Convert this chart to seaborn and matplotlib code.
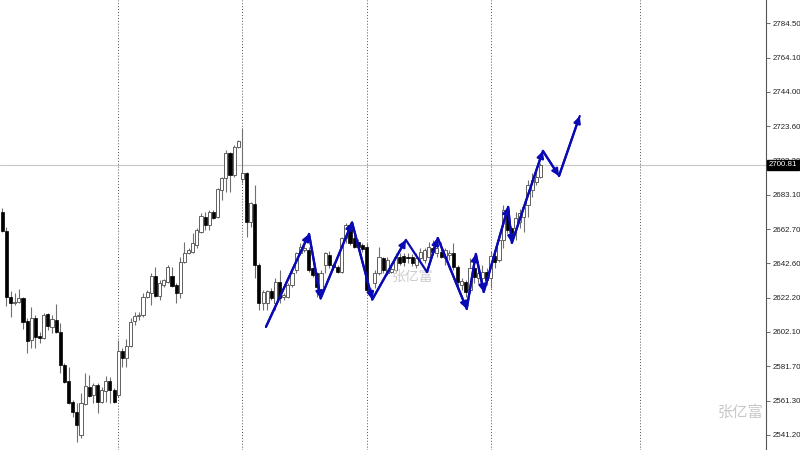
import numpy as np
import pandas as pd
import matplotlib
matplotlib.use('Agg')
import matplotlib.pyplot as plt
import seaborn as sns

# OHLC, one candle per slot
opens = [2673.2, 2662.0, 2623.0, 2619.0, 2620.0, 2622.0, 2608.6, 2597.4, 2610.2, 2599.7,
         2598.7, 2612.7, 2605.2, 2609.2, 2602.3, 2582.6, 2573.1, 2560.9, 2555.0, 2541.2,
         2559.5, 2569.8, 2564.9, 2570.8, 2560.9, 2567.4, 2573.1, 2567.8, 2564.9, 2590.9,
         2586.5, 2594.0, 2608.5, 2611.5, 2612.2, 2623.0, 2625.0, 2635.4, 2623.4, 2629.9,
         2631.9, 2635.2, 2629.9, 2625.0, 2643.7, 2648.6, 2649.6, 2653.5, 2661.4, 2670.3,
         2665.4, 2673.2, 2669.9, 2686.0, 2692.9, 2708.1, 2694.9, 2711.7, 2692.5, 2695.9,
         2667.3, 2677.8, 2641.7, 2619.1, 2619.0, 2626.0, 2619.0, 2631.8, 2622.6, 2623.0,
         2629.9, 2638.7, 2648.6, 2650.6, 2650.6, 2639.7, 2636.8, 2626.9, 2641.7, 2647.6,
         2641.7, 2640.7, 2637.8, 2657.5, 2665.3, 2657.5, 2655.5, 2653.5, 2652.5, 2624.0,
         2630.9, 2636.8, 2645.6, 2636.8, 2637.8, 2638.7, 2646.6, 2647.0, 2646.6, 2646.6,
         2641.7, 2645.6, 2644.6, 2646.6, 2651.5, 2648.5, 2649.5, 2645.6, 2647.6, 2648.5,
         2640.7, 2629.8, 2631.8, 2626.9, 2639.7, 2633.8, 2633.8, 2637.7, 2634.0, 2647.0,
         2644.6, 2656.4, 2674.1, 2663.3, 2663.3, 2667.2, 2670.2, 2677.1, 2686.0, 2690.9,
         2693.8]
highs = [2675.4, 2664.0, 2626.5, 2625.0, 2627.3, 2623.0, 2610.2, 2617.0, 2612.1, 2602.3,
         2613.1, 2613.5, 2612.1, 2618.6, 2607.2, 2583.6, 2581.6, 2561.9, 2559.9, 2565.8,
         2577.7, 2576.7, 2572.1, 2571.8, 2569.8, 2576.1, 2575.7, 2568.8, 2597.4, 2592.4,
         2597.8, 2610.2, 2614.0, 2614.0, 2625.0, 2627.0, 2636.8, 2640.7, 2632.9, 2633.4,
         2641.7, 2640.7, 2630.9, 2646.6, 2655.5, 2651.6, 2660.4, 2663.4, 2672.2, 2673.2,
         2674.2, 2674.2, 2687.0, 2693.9, 2709.7, 2708.7, 2712.6, 2715.6, 2722.5, 2696.5,
         2679.1, 2689.0, 2642.7, 2626.9, 2627.0, 2628.0, 2633.8, 2638.7, 2625.0, 2630.9,
         2637.8, 2649.6, 2654.5, 2653.5, 2652.5, 2640.7, 2637.8, 2638.7, 2649.6, 2650.0,
         2642.7, 2641.7, 2658.4, 2666.3, 2667.3, 2660.0, 2657.0, 2654.5, 2654.5, 2628.0,
         2638.7, 2652.5, 2646.6, 2646.6, 2641.7, 2648.6, 2648.6, 2649.0, 2648.6, 2648.0,
         2648.6, 2651.5, 2652.0, 2655.4, 2656.4, 2653.5, 2655.4, 2651.5, 2650.5, 2654.4,
         2641.7, 2633.8, 2633.0, 2645.6, 2641.7, 2640.7, 2641.7, 2639.7, 2650.0, 2648.6,
         2660.3, 2677.0, 2676.0, 2665.0, 2673.0, 2675.0, 2678.0, 2692.0, 2696.0, 2697.7,
         2701.7]
lows = [2661.4, 2617.5, 2611.1, 2618.0, 2619.0, 2603.7, 2589.9, 2592.5, 2592.5, 2595.4,
        2597.8, 2603.3, 2601.3, 2601.3, 2577.7, 2572.1, 2559.5, 2552.0, 2537.3, 2539.2,
        2558.9, 2563.9, 2559.9, 2554.4, 2559.9, 2560.9, 2559.9, 2559.9, 2563.9, 2581.6,
        2581.6, 2593.0, 2606.0, 2609.0, 2611.2, 2622.0, 2618.1, 2623.0, 2621.0, 2628.9,
        2630.9, 2628.9, 2619.1, 2622.0, 2643.1, 2648.2, 2649.0, 2651.6, 2660.4, 2662.4,
        2662.4, 2668.7, 2669.3, 2680.1, 2685.0, 2685.0, 2693.9, 2710.7, 2690.0, 2658.5,
        2664.4, 2633.8, 2615.1, 2615.1, 2615.0, 2621.0, 2615.1, 2619.0, 2621.0, 2622.0,
        2628.9, 2636.8, 2647.6, 2649.6, 2637.8, 2634.8, 2623.0, 2625.9, 2636.8, 2640.0,
        2638.7, 2636.8, 2636.8, 2654.5, 2653.5, 2651.5, 2651.0, 2649.6, 2625.9, 2621.0,
        2628.0, 2635.8, 2636.8, 2635.8, 2636.8, 2637.8, 2641.7, 2641.0, 2643.0, 2641.0,
        2640.0, 2644.6, 2642.6, 2645.6, 2647.6, 2646.6, 2645.6, 2641.7, 2644.6, 2638.7,
        2628.9, 2626.9, 2622.9, 2625.0, 2630.8, 2630.8, 2627.9, 2629.8, 2628.0, 2640.0,
        2643.6, 2651.5, 2660.3, 2655.4, 2656.4, 2663.3, 2661.3, 2670.2, 2682.0, 2688.9,
        2692.9]
closes = [2662.0, 2623.0, 2619.0, 2620.0, 2622.4, 2608.2, 2597.0, 2610.2, 2599.3, 2598.3,
          2612.1, 2605.6, 2609.8, 2602.3, 2582.6, 2572.7, 2560.3, 2555.0, 2547.1, 2559.9,
          2570.2, 2564.3, 2570.8, 2560.9, 2567.8, 2573.1, 2567.8, 2560.9, 2590.9, 2586.5,
          2594.0, 2608.2, 2611.5, 2612.0, 2623.0, 2625.4, 2635.4, 2623.4, 2630.9, 2632.5,
          2640.7, 2629.3, 2625.0, 2643.7, 2648.6, 2650.6, 2654.5, 2662.4, 2670.7, 2665.4,
          2673.2, 2669.3, 2686.4, 2692.9, 2708.1, 2694.9, 2711.7, 2715.2, 2695.9, 2667.3,
          2678.2, 2641.7, 2619.1, 2625.4, 2626.0, 2622.0, 2631.8, 2622.0, 2624.0, 2629.9,
          2636.8, 2648.6, 2652.5, 2651.5, 2638.7, 2635.8, 2628.9, 2636.8, 2648.6, 2641.7,
          2640.3, 2637.8, 2657.5, 2665.3, 2654.5, 2652.5, 2652.5, 2651.0, 2626.9, 2626.9,
          2636.8, 2646.6, 2638.7, 2644.6, 2639.2, 2646.6, 2642.7, 2643.6, 2645.6, 2643.0,
          2645.6, 2649.5, 2650.5, 2652.5, 2649.5, 2651.5, 2646.6, 2650.5, 2648.5, 2640.7,
          2631.8, 2632.2, 2625.9, 2639.7, 2634.7, 2636.7, 2637.7, 2632.8, 2647.0, 2643.6,
          2656.4, 2674.1, 2662.3, 2660.3, 2669.2, 2672.2, 2676.1, 2688.9, 2691.9, 2693.8,
          2700.8]

# blue zigzag forecast path (bar index, price)
zz_x = [63.7, 74.1, 76.9, 84.5, 89.4, 97.5, 102.6, 105.2, 112.2, 114.4, 116.3, 122.2, 123.1, 130.6, 134.5, 139.5]
zz_y = [2605.1, 2660.0, 2621.9, 2666.8, 2621.3, 2656.5, 2637.5, 2657.6, 2615.7, 2648.2, 2625.7, 2676.0, 2654.7, 2709.1, 2694.3, 2729.7]

separators = [28, 58, 88, 118, 154]
price_ticks = [2784.50, 2764.10, 2744.00, 2723.60, 2703.20, 2683.10, 2662.70, 2642.60,
               2622.20, 2602.10, 2581.70, 2561.30, 2541.20]
last_price = 2700.81

sns.set_style("white")
plt.rcParams['font.family'] = ['Liberation Sans', 'DejaVu Sans']

fig = plt.figure(figsize=(8, 4.5), dpi=100)
ax = fig.add_axes([0, 0, 766 / 800, 1])

df = pd.DataFrame({'i': np.arange(len(opens)), 'o': opens, 'h': highs, 'l': lows, 'c': closes})
up = df.c >= df.o

for s in separators:
    ax.axvline(s, color='#505050', ls=(0, (1, 2)), lw=0.7, zorder=1)
ax.axhline(last_price, color='#c8c8c8', lw=0.8, zorder=1)

ax.vlines(df.i, df.l, df.h, color='#707070', lw=0.8, zorder=2)
body_up = (df.c - df.o).clip(lower=0.4)
body_dn = (df.o - df.c).clip(lower=0.4)
ax.bar(df.i[up], body_up[up], bottom=df.o[up], width=0.75, color='white',
       edgecolor='#606060', lw=0.7, zorder=3)
ax.bar(df.i[~up], body_dn[~up], bottom=df.c[~up], width=0.75, color='black',
       edgecolor='black', lw=0.5, zorder=3)

blue = '#0a0ab4'
sns.lineplot(x=zz_x, y=zz_y, sort=False, estimator=None, color=blue, lw=1.6, ax=ax, zorder=5)
for k in range(1, len(zz_x)):
    if k == 6:
        continue
    ax.annotate('', xy=(zz_x[k], zz_y[k]), xytext=(zz_x[k - 1], zz_y[k - 1]),
                arrowprops=dict(arrowstyle='-|>', color=blue, lw=1.6, mutation_scale=10,
                                shrinkA=0, shrinkB=0), zorder=6)

ax.set_xlim(-0.556, 184.5)
ax.set_ylim(2532.3, 2798.3)
ax.set_xticks([])
ax.yaxis.tick_right()
ax.set_yticks(price_ticks)
ax.set_yticklabels([f'{v:.2f}' for v in price_ticks])
ax.tick_params(axis='y', labelsize=5.7, length=3, width=0.6, color='#555555', pad=1.5,
               labelcolor='#222222')
for side in ['top', 'left', 'bottom']:
    ax.spines[side].set_visible(False)
ax.spines['right'].set_color('#555555')
ax.spines['right'].set_linewidth(0.8)

ax.text(1.004, last_price, f'{last_price:.2f}', transform=ax.get_yaxis_transform(),
        ha='left', va='center', fontsize=5.7, color='white', clip_on=False, zorder=10,
        bbox=dict(boxstyle='square,pad=0.2', fc='black', ec='black'))

ax.text(0.539, 0.384, '张亿富', transform=ax.transAxes, ha='center', va='center',
        fontsize=10, color='#c0c0c0', alpha=0.8, family=['Noto Sans CJK SC'], zorder=4)
fig.text(0.926, 0.084, '张亿富', ha='center', va='center', fontsize=11,
         color='#c8c8c8', family=['Noto Sans CJK SC'])

fig.savefig('out.png', dpi=100)
